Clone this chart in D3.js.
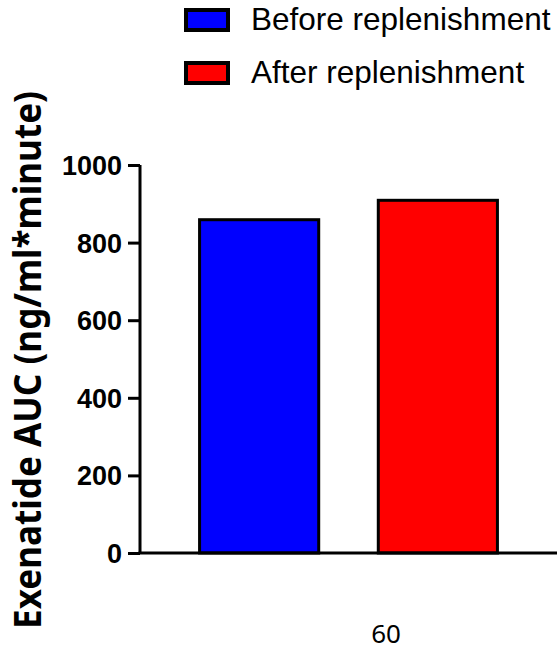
<!DOCTYPE html>
<html>
<head>
<meta charset="utf-8">
<script src="https://cdn.jsdelivr.net/npm/d3@7"></script>
<style>
  body { margin: 0; background: #fff; }
</style>
</head>
<body>
<svg id="chart"></svg>
<script>
// data
var groups = ["Before replenishment", "After replenishment"];
var values = [859, 909];
var colors = ["#0000ff", "#ff0000"];
var yTicks = [0, 200, 400, 600, 800, 1000];
var xLabel = "60";
var yLabel = "Exenatide AUC (ng/ml*minute)";

var W = 559, H = 651;
var svg = d3.select("#chart").attr("width", W).attr("height", H);

var x = d3.scaleBand()
    .domain(groups)
    .range([140, 557])
    .paddingInner(1 / 3)
    .paddingOuter(1 / 3);

var y = d3.scaleLinear()
    .domain([0, 1000])
    .range([553, 165]);

// bars
svg.selectAll("rect.bar")
    .data(groups)
    .enter().append("rect")
    .attr("class", "bar")
    .attr("x", function(d) { return x(d); })
    .attr("width", x.bandwidth())
    .attr("y", function(d, i) { return y(values[i]); })
    .attr("height", function(d, i) { return y(0) - y(values[i]); })
    .style("fill", function(d, i) { return colors[i]; })
    .style("stroke", "#000")
    .style("stroke-width", 3);

// y axis
var yAxis = svg.append("g")
    .attr("transform", "translate(140,0)")
    .call(d3.axisLeft(y).tickValues(yTicks).tickFormat(d3.format("d")).tickSize(12).tickPadding(6));
yAxis.select(".domain").attr("stroke-width", 3).attr("d", "M0,165V553");
yAxis.selectAll(".tick line").attr("stroke-width", 3);
yAxis.selectAll(".tick text")
    .style("font-family", "'Liberation Sans', Arial, sans-serif")
    .style("font-weight", "bold")
    .style("font-size", "27px")
    .attr("dy", "0.35em");

// x axis line
svg.append("line")
    .attr("x1", 138.5).attr("x2", 557)
    .attr("y1", y(0)).attr("y2", y(0))
    .attr("stroke", "#000")
    .attr("stroke-width", 3);

// x label
svg.append("text")
    .attr("x", 386).attr("y", 643)
    .attr("text-anchor", "middle")
    .style("font-family", "'Noto Sans', 'Open Sans', sans-serif")
    .style("font-size", "26px")
    .text(xLabel);

// y label
svg.append("text")
    .attr("transform", "translate(41,360) rotate(-90)")
    .attr("text-anchor", "middle")
    .attr("textLength", 538)
    .attr("lengthAdjust", "spacingAndGlyphs")
    .style("font-family", "'Noto Sans', 'Open Sans', sans-serif")
    .style("font-weight", "bold")
    .style("font-size", "37px")
    .text(yLabel);

// legend
var legend = svg.selectAll("g.leg")
    .data(groups)
    .enter().append("g")
    .attr("class", "leg")
    .attr("transform", function(d, i) { return "translate(186," + (10 + i * 53) + ")"; });
legend.append("rect")
    .attr("width", 42).attr("height", 20)
    .style("fill", function(d, i) { return colors[i]; })
    .style("stroke", "#000")
    .style("stroke-width", 4);
legend.append("text")
    .attr("x", 65).attr("y", 19.5)
    .style("font-family", "'Liberation Sans', Arial, sans-serif")
    .style("font-size", "31.5px")
    .text(function(d) { return d; });
</script>
</body>
</html>
